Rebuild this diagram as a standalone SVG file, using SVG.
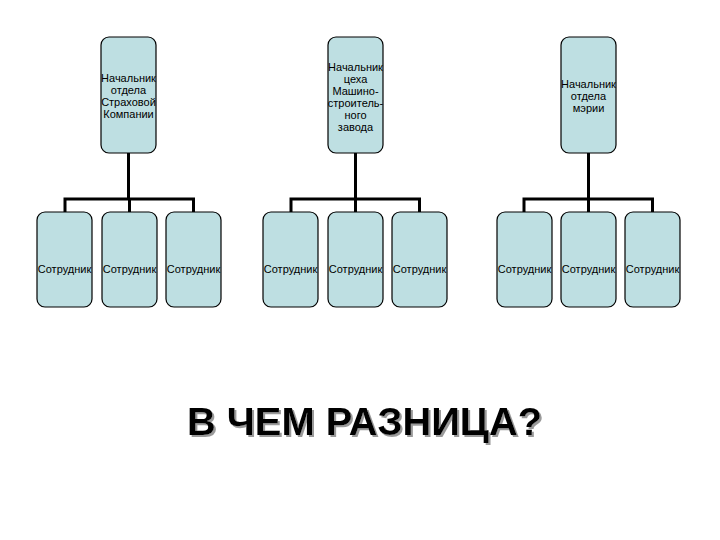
<svg xmlns="http://www.w3.org/2000/svg" width="720" height="540" viewBox="0 0 720 540">
<defs>
<filter id="sh" x="-5%" y="-20%" width="110%" height="150%">
<feFlood flood-color="#9a9a9a" result="f"/>
<feComposite in="f" in2="SourceAlpha" operator="in" result="s"/>
<feOffset in="s" dx="2" dy="2" result="o"/>
<feMerge><feMergeNode in="o"/><feMergeNode in="SourceGraphic"/></feMerge>
</filter>
</defs>
<style>
.box{fill:#BEDFE2;stroke:#000;stroke-width:1.2}
.t{font-family:"Liberation Sans",Arial,sans-serif;font-size:11px;fill:#000;text-anchor:middle}
.c{fill:none;stroke:#000;stroke-width:3}
.big{font-family:"Liberation Sans",Arial,sans-serif;font-size:38px;font-weight:bold;text-anchor:middle}
</style>
<rect width="720" height="540" fill="#fff"/>
<g id="connectors">
<path class="c" d="M128.5 153V199M65 199H193M65 197.5V212M129.5 199V212M193.5 197.5V212"/>
<path class="c" d="M355.5 153V199M291 199H420M291 197.5V212M355.5 199V212M419.5 197.5V212"/>
<path class="c" d="M588.5 153V199M524 199H653M524 197.5V212M588.5 199V212M652.5 197.5V212"/>
</g>
<g id="head1"><rect class="box" x="101" y="37" width="55" height="116" rx="8"/>
<text class="t" x="128.5" y="82">Начальник</text><text class="t" x="128.5" y="94">отдела</text><text class="t" x="128.5" y="106">Страховой</text><text class="t" x="128.5" y="118">Компании</text></g>
<g id="e11"><rect class="box" x="37" y="212" width="55" height="95" rx="8"/><text class="t" x="64.5" y="273">Сотрудник</text></g>
<g id="e12"><rect class="box" x="102" y="212" width="55" height="95" rx="8"/><text class="t" x="129.5" y="273">Сотрудник</text></g>
<g id="e13"><rect class="box" x="166" y="212" width="55" height="95" rx="8"/><text class="t" x="193.5" y="273">Сотрудник</text></g>
<g id="head2"><rect class="box" x="328" y="37" width="55" height="116" rx="8"/>
<text class="t" x="355.5" y="71">Начальник</text><text class="t" x="355.5" y="83">цеха</text><text class="t" x="355.5" y="95">Машино-</text><text class="t" x="355.5" y="107">строитель-</text><text class="t" x="355.5" y="119">ного</text><text class="t" x="355.5" y="131">завода</text></g>
<g id="e21"><rect class="box" x="263" y="212" width="55" height="95" rx="8"/><text class="t" x="290.5" y="273">Сотрудник</text></g>
<g id="e22"><rect class="box" x="328" y="212" width="55" height="95" rx="8"/><text class="t" x="355.5" y="273">Сотрудник</text></g>
<g id="e23"><rect class="box" x="392" y="212" width="55" height="95" rx="8"/><text class="t" x="419.5" y="273">Сотрудник</text></g>
<g id="head3"><rect class="box" x="561" y="37" width="55" height="116" rx="8"/>
<text class="t" x="588.5" y="88">Начальник</text><text class="t" x="588.5" y="100">отдела</text><text class="t" x="588.5" y="112">мэрии</text></g>
<g id="e31"><rect class="box" x="497" y="212" width="55" height="95" rx="8"/><text class="t" x="524.5" y="273">Сотрудник</text></g>
<g id="e32"><rect class="box" x="561" y="212" width="55" height="95" rx="8"/><text class="t" x="588.5" y="273">Сотрудник</text></g>
<g id="e33"><rect class="box" x="625" y="212" width="55" height="95" rx="8"/><text class="t" x="652.5" y="273">Сотрудник</text></g>
<g id="title">
<text class="big" x="364.5" y="435" fill="#000" filter="url(#sh)" textLength="355" lengthAdjust="spacingAndGlyphs">В ЧЕМ РАЗНИЦА?</text>
</g>
</svg>
